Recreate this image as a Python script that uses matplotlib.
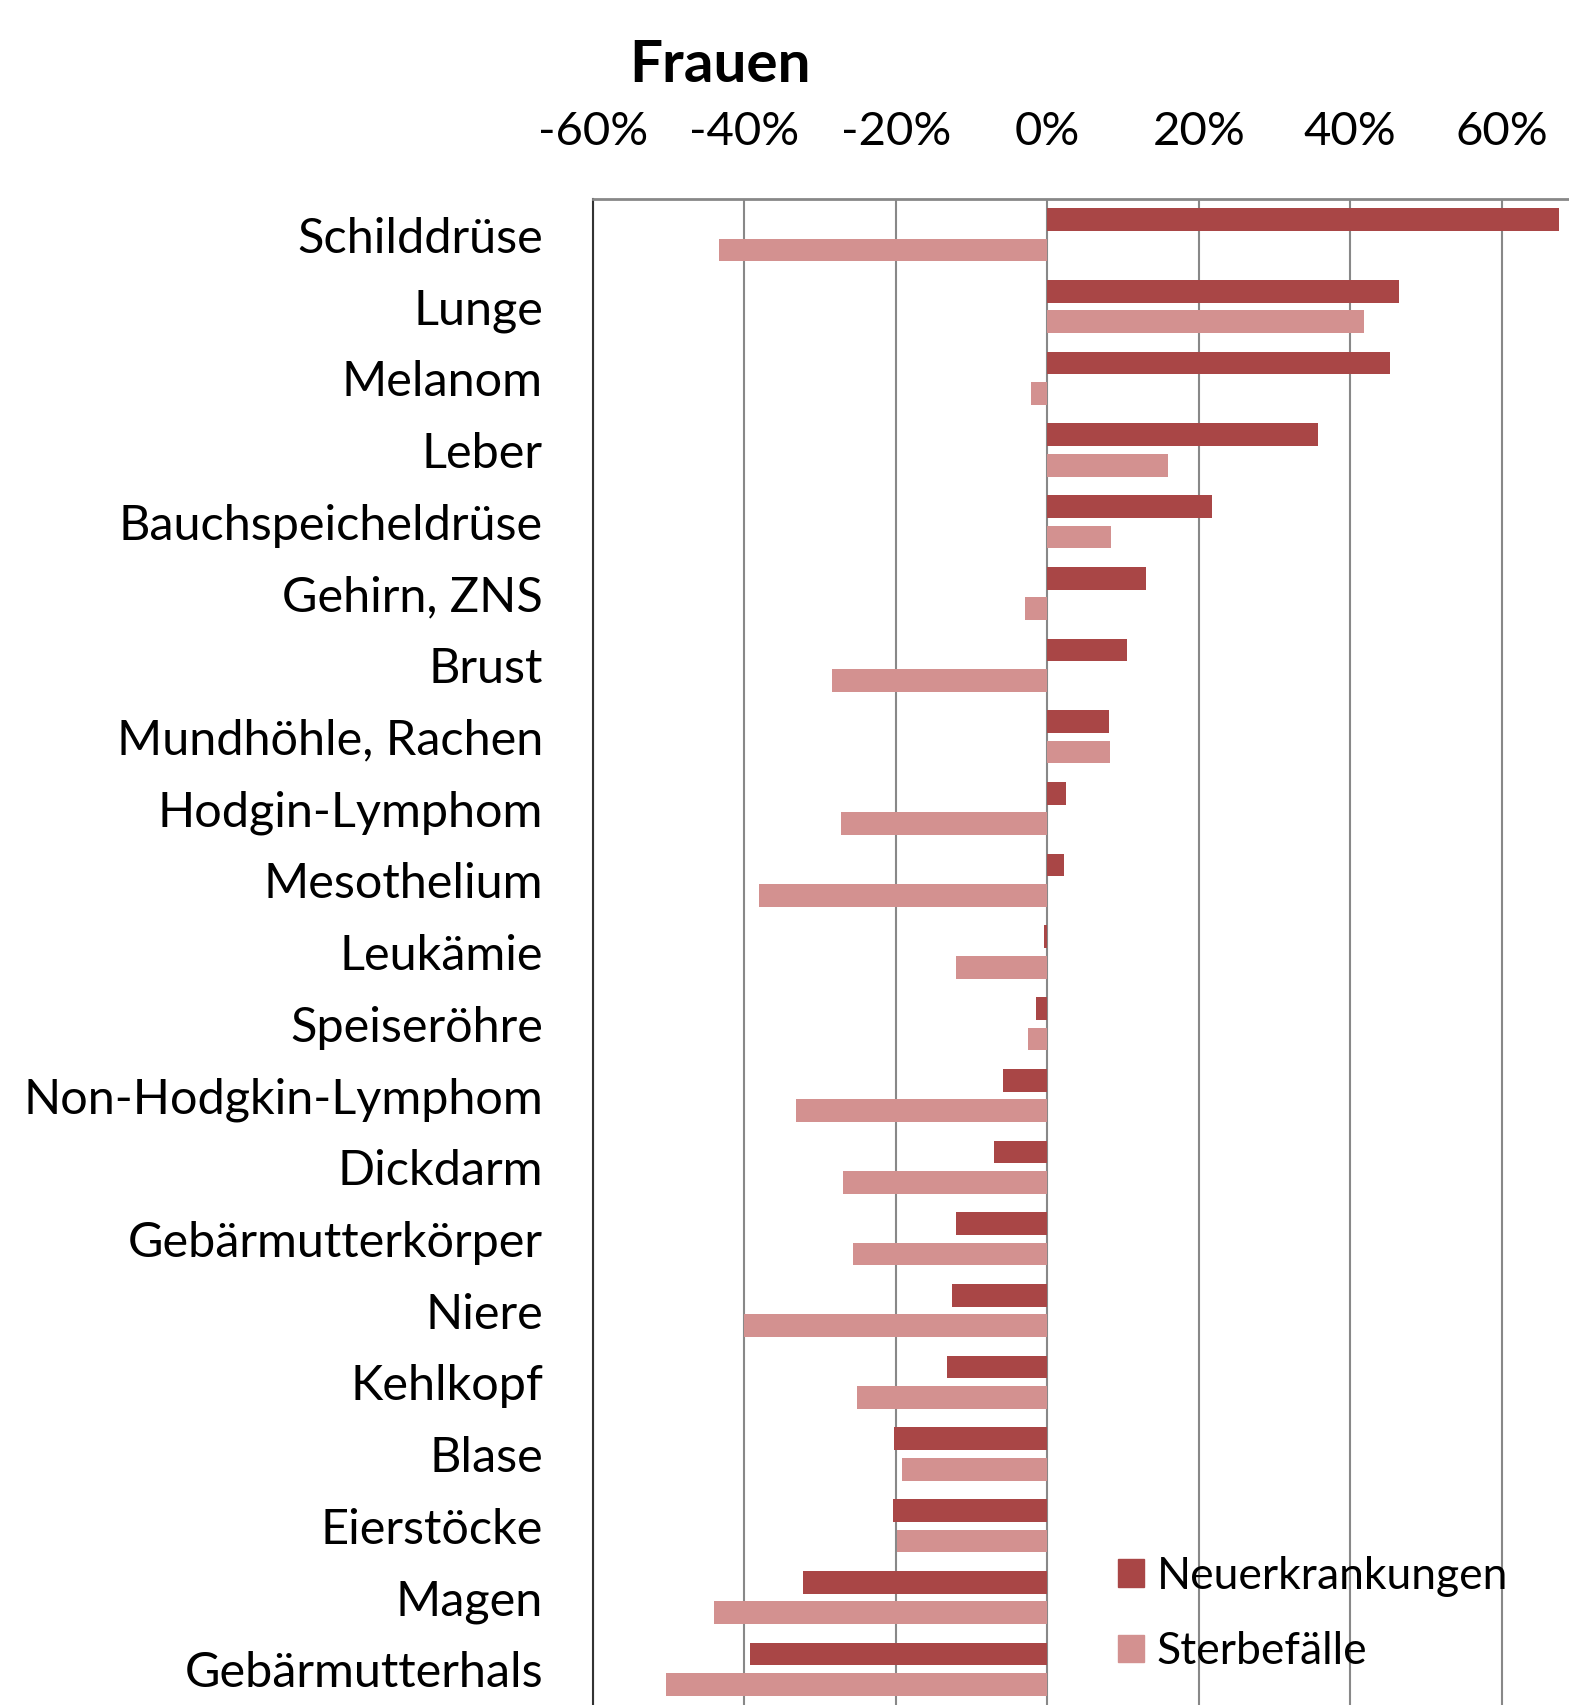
import numpy as np
import matplotlib
matplotlib.use('Agg')
import matplotlib.pyplot as plt
from matplotlib.patches import Patch
from matplotlib.ticker import FuncFormatter

plt.rcParams['font.family'] = ['Lato', 'DejaVu Sans']

# Veraenderung in Prozent, Frauen
organe = ['Schilddrüse', 'Lunge', 'Melanom', 'Leber', 'Bauchspeicheldrüse',
          'Gehirn, ZNS', 'Brust', 'Mundhöhle, Rachen', 'Hodgin-Lymphom',
          'Mesothelium', 'Leukämie', 'Speiseröhre', 'Non-Hodgkin-Lymphom',
          'Dickdarm', 'Gebärmutterkörper', 'Niere', 'Kehlkopf', 'Blase',
          'Eierstöcke', 'Magen', 'Gebärmutterhals']
neuerkrankungen = [67.6, 46.5, 45.3, 35.7, 21.7, 13.0, 10.5, 8.2, 2.5, 2.2,
                   -0.4, -1.5, -5.8, -7.1, -12.0, -12.6, -13.2, -20.3, -20.4,
                   -32.3, -39.2]
sterbefaelle = [-43.4, 41.8, -2.1, 15.9, 8.4, -3.0, -28.5, 8.3, -27.2, -38.1,
                -12.0, -2.5, -33.2, -27.0, -25.6, -40.0, -25.1, -19.2, -19.9,
                -44.0, -50.4]
xticks = [-60, -40, -20, 0, 20, 40, 60]

dunkel = '#a94646'
hell = '#d39190'

fig = plt.figure(figsize=(15.69, 17.05), dpi=100)
ax = fig.add_axes([593/1569, 0, 1 - 593/1569, 1 - 199/1705])

y = np.arange(len(organe))
h = 0.318
ax.barh(y - 0.212, neuerkrankungen, height=h, color=dunkel, zorder=3)
ax.barh(y + 0.212, sterbefaelle, height=h, color=hell, zorder=3)

ax.set_ylim(len(organe) - 0.5, -0.5)
ax.set_xlim(-60, 68.9)
ax.set_yticks(y)
ax.set_yticklabels(organe, fontsize=35)
ax.set_xticks(xticks)
ax.xaxis.set_major_formatter(FuncFormatter(lambda v, p: '%d%%' % v))
ax.xaxis.tick_top()
ax.tick_params(axis='x', labelsize=34, length=0, pad=33)
ax.tick_params(axis='y', length=0, pad=36)
ax.grid(axis='x', color='#888888', linewidth=1.5, zorder=0)

ax.spines['right'].set_visible(False)
ax.spines['bottom'].set_visible(False)
ax.spines['top'].set_color('#888888')
ax.spines['top'].set_linewidth(2)
ax.spines['left'].set_color('#333333')
ax.spines['left'].set_linewidth(1.5)

fig.text(720/1569, 1 - 66/1705, 'Frauen', fontsize=42, fontweight='bold',
         ha='center', va='center')

handles = [Patch(color=dunkel, label='Neuerkrankungen'),
           Patch(color=hell, label='Sterbefälle')]
ax.legend(handles=handles, loc='lower left', fontsize=32, frameon=False,
          handlelength=0.58, handleheight=0.58, handletextpad=0.3,
          labelspacing=0.78, borderaxespad=0,
          bbox_to_anchor=(1100/1569, 1 - 1690/1705),
          bbox_transform=fig.transFigure)

fig.savefig('out.png', dpi=100)
